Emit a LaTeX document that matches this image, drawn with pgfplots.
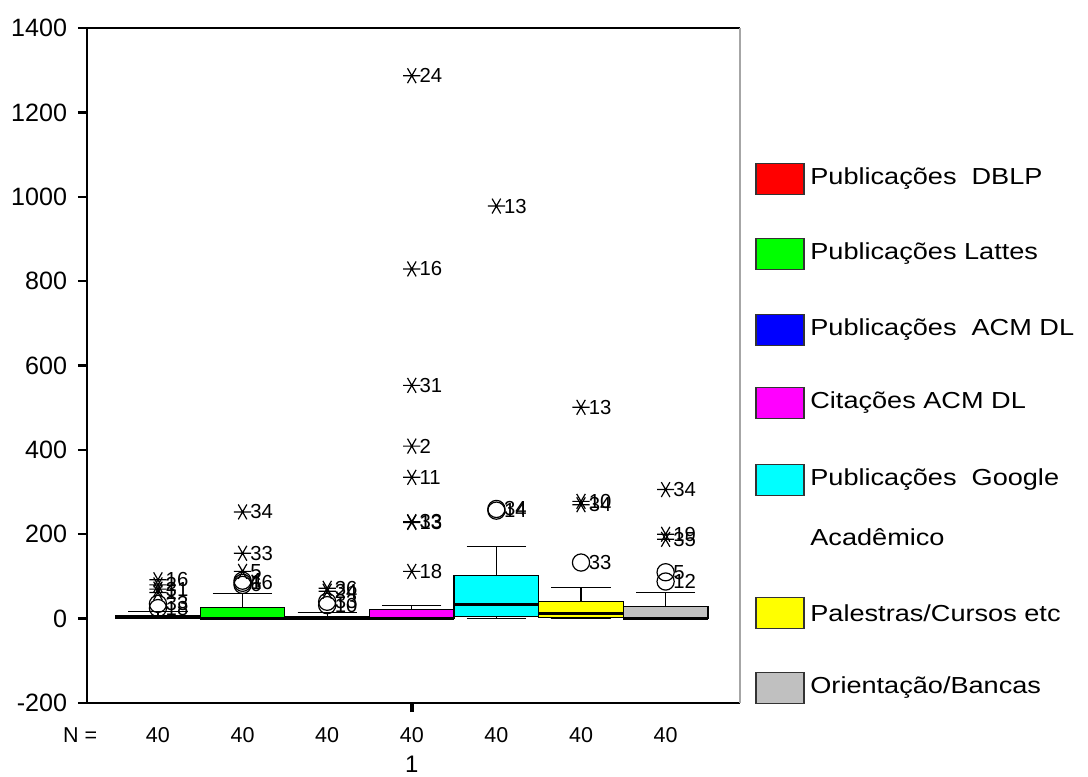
\documentclass[border=0pt]{standalone}
\usepackage{pgfplots}
\pgfplotsset{compat=1.18}
\usepackage{pgfplotstable}
\usepgfplotslibrary{statistics}
\usepackage{fontspec}
\setmainfont{Liberation Sans}
\newfontfamily\legfont[FakeStretch=1.17]{Liberation Sans}
\definecolor{cRed}{RGB}{255,0,0}
\definecolor{cGreen}{RGB}{0,255,0}
\definecolor{cBlue}{RGB}{0,0,255}
\definecolor{cMag}{RGB}{255,0,255}
\definecolor{cCyan}{RGB}{0,255,255}
\definecolor{cYel}{RGB}{255,255,0}
\definecolor{cGray}{RGB}{192,192,192}

\pgfplotstableread{
x y lab
1 92 16
1 80 2
1 70 31
1 62 1
2 253 34
2 155 33
2 112 5
3 72 36
3 65 24
4 1287 24
4 829 16
4 553 31
4 409 2
4 335 11
4 230 33
4 228 13
4 112 18
5 978 13
6 501 13
6 278 10
6 270 34
7 306 34
7 200 19
7 188 35
}\stars

\pgfplotstableread{
x y lab
1 35 33
1 25 18
2 90 4
2 85 16
2 80 6
3 40 33
3 32 10
5 260 34
5 256 14
6 133 33
7 110 5
7 88 12
}\circles

\newcommand{\legitem}[3]{%
  \filldraw[fill=#2, draw=black!80, line width=0.6pt] (11.118,#1-0.228) rectangle (11.824,#1+0.228);
  \node[anchor=west, inner sep=0pt, font=\legfont\fontsize{9.7}{11}\selectfont] at (11.91,#1) {#3};
}

\begin{document}
\begin{tikzpicture}
\useasboundingbox (0,0) rectangle (16,11.412);
\begin{axis}[
  scale only axis,
  at={(1.279cm,1.0735cm)}, anchor=south west,
  width=9.603cm, height=9.926cm,
  xmin=0.161, xmax=7.879,
  ymin=-200, ymax=1400,
  axis lines=left,
  axis line style={-, line width=0.6pt, black},
  ytick={-200,0,200,400,600,800,1000,1200,1400},
  xtick={4}, xticklabels={},
  tick align=outside,
  major tick length=3.8pt,
  tick style={line width=1pt, black},
  x tick style={line width=1.5pt},
  /pgf/number format/assume math mode=true,
  /pgf/number format/set thousands separator={},
  yticklabel style={font=\fontsize{10.5}{12}\selectfont, xshift=-1pt},
  clip=false,
  boxplot/draw direction=y,
  boxplot/box extend=1,
  boxplot/whisker extend=0.7,
  boxplot/every median/.style={line width=1.4pt, black},
  boxplot/every whisker/.style={line width=0.5pt, black},
  boxplot/every box/.style={line width=0.5pt, draw=black},
]
\addplot[boxplot prepared={draw position=1, lower whisker=0, lower quartile=0, median=2, upper quartile=8, upper whisker=17}, fill=cRed, draw=black] coordinates {};
\addplot[boxplot prepared={draw position=2, lower whisker=0, lower quartile=0, median=0, upper quartile=26, upper whisker=59}, fill=cGreen, draw=black] coordinates {};
\addplot[boxplot prepared={draw position=3, lower whisker=0, lower quartile=0, median=1, upper quartile=5, upper whisker=14}, fill=cBlue, draw=black] coordinates {};
\addplot[boxplot prepared={draw position=4, lower whisker=0, lower quartile=0, median=0, upper quartile=21, upper whisker=32}, fill=cMag, draw=black] coordinates {};
\addplot[boxplot prepared={draw position=5, lower whisker=0, lower quartile=5, median=33, upper quartile=102, upper whisker=171}, fill=cCyan, draw=black] coordinates {};
\addplot[boxplot prepared={draw position=6, lower whisker=0, lower quartile=2, median=12, upper quartile=40, upper whisker=74}, fill=cYel, draw=black] coordinates {};
\addplot[boxplot prepared={draw position=7, lower whisker=0, lower quartile=0, median=0, upper quartile=28, upper whisker=62}, fill=cGray, draw=black] coordinates {};

\addplot[only marks, mark=asterisk, mark size=3.6pt, black, line width=0.5pt,
  every mark/.append style={rotate=90},
  point meta=explicit symbolic, nodes near coords,
  every node near coord/.append style={anchor=west, font=\fontsize{8.5}{9}\selectfont, inner sep=0pt, xshift=3pt, text=black}]
  table[x=x, y=y, meta=lab] {\stars};
\addplot[only marks, mark=o, mark size=3.6pt, black, line width=0.5pt,
  point meta=explicit symbolic, nodes near coords,
  every node near coord/.append style={anchor=west, font=\fontsize{8.5}{9}\selectfont, inner sep=0pt, xshift=3pt, text=black}]
  table[x=x, y=y, meta=lab] {\circles};

\draw[line width=0.6pt, black] (rel axis cs:0,1) -- (rel axis cs:1,1);
\draw[line width=0.6pt, gray!70] (rel axis cs:1,1) -- (rel axis cs:1,0);

\node[font=\fontsize{9}{10}\selectfont, yshift=-13.3pt] at (axis cs:1,-200) {40};
\node[font=\fontsize{9}{10}\selectfont, yshift=-13.3pt] at (axis cs:2,-200) {40};
\node[font=\fontsize{9}{10}\selectfont, yshift=-13.3pt] at (axis cs:3,-200) {40};
\node[font=\fontsize{9}{10}\selectfont, yshift=-13.3pt] at (axis cs:4,-200) {40};
\node[font=\fontsize{9}{10}\selectfont, yshift=-13.3pt] at (axis cs:5,-200) {40};
\node[font=\fontsize{9}{10}\selectfont, yshift=-13.3pt] at (axis cs:6,-200) {40};
\node[font=\fontsize{9}{10}\selectfont, yshift=-13.3pt] at (axis cs:7,-200) {40};
\node[font=\fontsize{9}{10}\selectfont, yshift=-13.3pt] at (axis cs:0.08,-200) {N =};
\node[font=\fontsize{10}{11}\selectfont, yshift=-25.8pt] at (axis cs:4,-200) {1};
\end{axis}

\legitem{8.779}{cRed}{Publicações\ \ DBLP}
\legitem{7.676}{cGreen}{Publicações Lattes}
\legitem{6.559}{cBlue}{Publicações\ \ ACM DL}
\legitem{5.485}{cMag}{Citações ACM DL}
\legitem{4.353}{cCyan}{Publicações\ \ Google}
\legitem{2.397}{cYel}{Palestras/Cursos etc}
\legitem{1.294}{cGray}{Orientação/Bancas}
\node[anchor=west, inner sep=0pt, font=\legfont\fontsize{9.7}{11}\selectfont] at (11.91,3.515) {Acadêmico};
\end{tikzpicture}
\end{document}
